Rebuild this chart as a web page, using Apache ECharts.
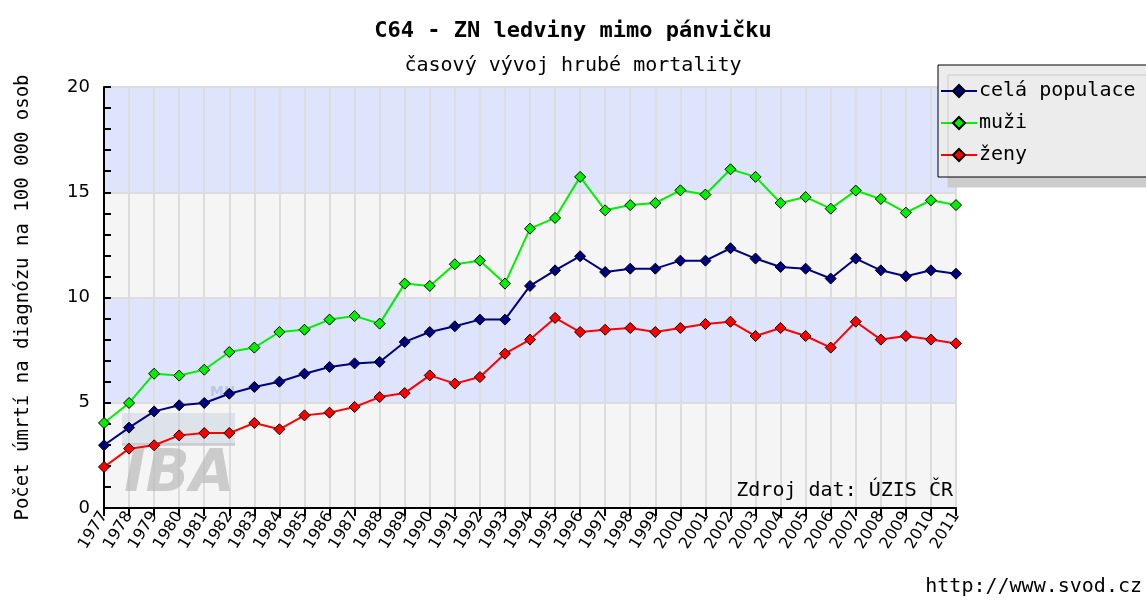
<!DOCTYPE html>
<html>
<head>
<meta charset="utf-8">
<script src="https://cdn.jsdelivr.net/npm/echarts@6/dist/echarts.min.js"></script>
<style>html,body{margin:0;padding:0;background:#fff}#c{width:1146px;height:601px}</style>
</head>
<body>
<div id="c"></div>
<script>
const years = ['1977','1978','1979','1980','1981','1982','1983','1984','1985','1986','1987','1988','1989','1990','1991','1992','1993','1994','1995','1996','1997','1998','1999','2000','2001','2002','2003','2004','2005','2006','2007','2008','2009','2010','2011'];
const celaPopulace = [2.98,3.82,4.59,4.88,4.99,5.43,5.75,6.0,6.38,6.70,6.87,6.94,7.89,8.36,8.63,8.95,8.95,10.55,11.29,11.96,11.21,11.37,11.37,11.75,11.75,12.34,11.85,11.45,11.37,10.90,11.85,11.29,11.01,11.29,11.13];
const muzi = [4.04,4.99,6.38,6.29,6.57,7.41,7.62,8.36,8.47,8.95,9.12,8.76,10.66,10.55,11.58,11.75,10.66,13.27,13.78,15.73,14.14,14.39,14.49,15.09,14.89,16.09,15.73,14.49,14.77,14.22,15.08,14.68,14.03,14.62,14.39];
const zeny = [1.95,2.82,2.98,3.45,3.56,3.56,4.04,3.74,4.40,4.53,4.80,5.27,5.46,6.30,5.91,6.22,7.33,8.0,9.03,8.36,8.47,8.55,8.36,8.55,8.74,8.85,8.17,8.55,8.17,7.62,8.85,8.0,8.17,8.0,7.82];
const seriesNames = ['celá populace','muži','ženy'];
const titleText = 'C64 - ZN ledviny mimo pánvičku';
const subtitleText = 'časový vývoj hrubé mortality';
const yAxisName = 'Počet úmrtí na diagnózu na 100 000 osob';

const chart = echarts.init(document.getElementById('c'), null, {renderer:'canvas'});
const mono = 'DejaVu Sans Mono';
function mk(name, data, color){
  return {
    name, type:'line', data, symbol:'diamond', symbolSize:11,
    lineStyle:{color, width:2},
    itemStyle:{color, borderColor:'#000', borderWidth:1},
    emphasis:{disabled:true}, animation:false, z:3
  };
}
chart.setOption({
  backgroundColor:'#fff',
  animation:false,
  title:[
    {text:titleText, left:'center', top:15, textStyle:{fontFamily:mono, fontWeight:'bold', fontSize:22, color:'#000'}},
    {text:subtitleText, left:'center', top:51, textStyle:{fontFamily:mono, fontWeight:'normal', fontSize:20, color:'#000'}}
  ],
  legend:{
    orient:'vertical', left:938, top:65, width:260,
    padding:[16,60,12,2], itemGap:12, itemWidth:36, itemHeight:15,
    backgroundColor:'#ececec', borderColor:'#000', borderWidth:1,
    shadowColor:'#cccccc', shadowOffsetX:10, shadowOffsetY:10, shadowBlur:0,
    textStyle:{fontFamily:mono, fontSize:20, color:'#000', padding:[0,0,0,-3]},
    data:seriesNames
  },
  grid:{left:104, right:190, top:87, bottom:93, containLabel:false, outerBoundsMode:'none'},
  xAxis:{
    type:'category', data:years, boundaryGap:false,
    axisLine:{lineStyle:{color:'#000', width:2}},
    axisTick:{show:true, inside:false, length:8, lineStyle:{color:'#000', width:2}},
    axisLabel:{rotate:58, fontFamily:'DejaVu Sans', fontSize:16, color:'#000', interval:0, margin:5},
    splitLine:{show:true, lineStyle:{color:'#dddddd', width:2}}
  },
  yAxis:{
    type:'value', min:0, max:20, interval:5,
    name:yAxisName, nameLocation:'middle', nameGap:71, nameRotate:90,
    nameTextStyle:{fontFamily:mono, fontSize:19, color:'#000'},
    axisLine:{show:true, lineStyle:{color:'#000', width:2}},
    axisTick:{show:true, inside:true, length:7, lineStyle:{color:'#000', width:2}},
    minorTick:{show:true, splitNumber:5, length:7, lineStyle:{color:'#000', width:2}},
    axisLabel:{fontFamily:'DejaVu Sans', fontSize:18, color:'#000', margin:14},
    splitLine:{show:true, lineStyle:{color:'#dddddd', width:2}},
    splitArea:{show:true, areaStyle:{color:['#f5f5f5','#dde4fc']}}
  },
  graphic:[
    {type:'rect', shape:{x:122,y:413,width:113,height:32}, z:1, style:{fill:'rgba(195,205,220,0.45)'}},
    {type:'rect', shape:{x:122,y:443,width:113,height:3}, z:1, style:{fill:'rgba(190,190,190,0.6)'}},
    {type:'text', left:124, top:447, z:1, style:{text:'IBA', font:'italic bold 58px "DejaVu Sans"', fill:'rgba(185,185,185,0.7)'}},
    {type:'text', left:210, top:385, z:1, style:{text:'MU', font:'bold 14px "DejaVu Sans"', fill:'rgba(150,160,200,0.45)'}},
    {type:'text', right:193, top:481, z:4, style:{text:'Zdroj dat: ÚZIS ČR', font:'20px "DejaVu Sans Mono"', fill:'#000', textAlign:'right'}},
    {type:'text', right:4, top:577, z:4, style:{text:'http://www.svod.cz', font:'20px "DejaVu Sans Mono"', fill:'#000'}}
  ],
  series:[
    mk(seriesNames[0], celaPopulace, '#000080'),
    mk(seriesNames[1], muzi, '#00f000'),
    mk(seriesNames[2], zeny, '#ff0000')
  ]
});
</script>
</body>
</html>
